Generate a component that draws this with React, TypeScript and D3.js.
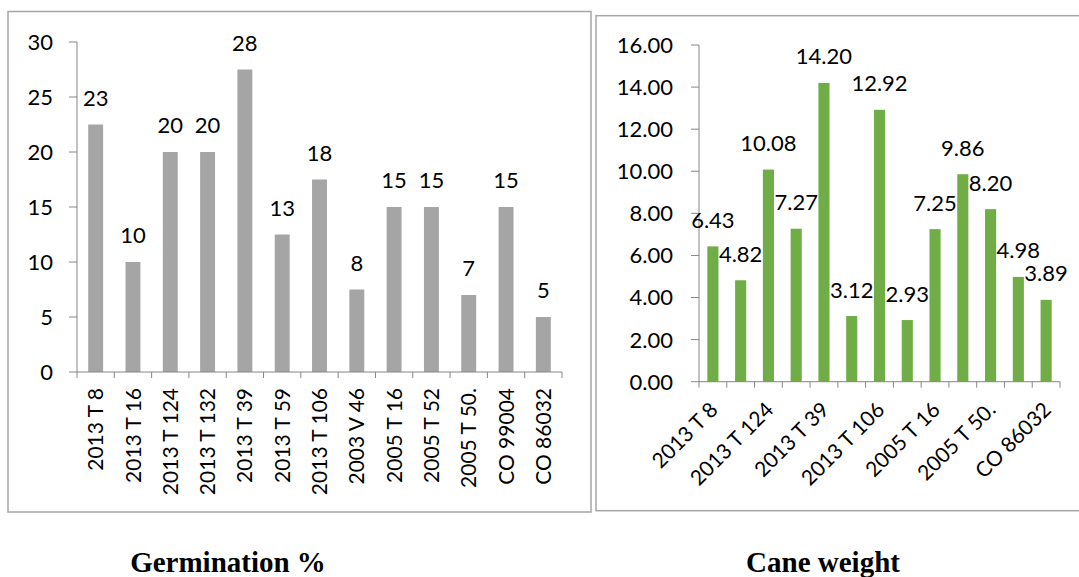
import React from "react";
import * as d3 from "d3";

// Varieties shown on both panels
const varieties = [
  "2013 T 8",
  "2013 T 16",
  "2013 T 124",
  "2013 T 132",
  "2013 T 39",
  "2013 T 59",
  "2013 T 106",
  "2003 V 46",
  "2005 T 16",
  "2005 T 52",
  "2005 T 50.",
  "CO 99004",
  "CO 86032",
];

// Germination percentage per variety
const germination = [22.5, 10, 20, 20, 27.5, 12.5, 17.5, 7.5, 15, 15, 7, 15, 5];

// Cane weight per variety
const caneWeight = [6.43, 4.82, 10.08, 7.27, 14.2, 3.12, 12.92, 2.93, 7.25, 9.86, 8.2, 4.98, 3.89];

const germinationTicks = [0, 5, 10, 15, 20, 25, 30];
const weightTicks = [0, 2, 4, 6, 8, 10, 12, 14, 16];

const FONT = "Lato, 'Open Sans', sans-serif";
const AXIS = "#868686";
const FRAME = "#a6a6a6";

function GerminationChart() {
  const x = d3.scaleBand<string>().domain(varieties).range([77, 562]).paddingInner(0.6).paddingOuter(0.3);
  const y = d3.scaleLinear().domain([0, 30]).range([372, 42]);
  const step = x.step();
  const x0 = x.range()[0];
  const fmt = (v: number) => v.toFixed(0);
  return (
    <g>
      <rect x={8} y={11.5} width={583} height={500.5} fill="#fff" stroke={FRAME} strokeWidth={1.5} />
      {germination.map((v, i) => (
        <rect
          key={varieties[i]}
          x={x(varieties[i])}
          y={y(v)}
          width={x.bandwidth()}
          height={y(0) - y(v)}
          fill="#a5a5a5"
        />
      ))}
      {/* value axis */}
      <line x1={x0} x2={x0} y1={y(30)} y2={y(0)} stroke={AXIS} strokeWidth={1} />
      {germinationTicks.map((t) => (
        <g key={t}>
          <line x1={x0 - 8} x2={x0} y1={y(t)} y2={y(t)} stroke={AXIS} />
          <text x={53} y={y(t)} dy="0.36em" textAnchor="end" fontSize={22} fontFamily={FONT}>
            {t}
          </text>
        </g>
      ))}
      {/* category axis */}
      <line x1={x0} x2={x.range()[1]} y1={y(0)} y2={y(0)} stroke={AXIS} />
      {d3.range(varieties.length + 1).map((k) => (
        <line key={k} x1={x0 + k * step} x2={x0 + k * step} y1={y(0)} y2={y(0) + 6} stroke={AXIS} />
      ))}
      {varieties.map((c) => {
        const cx = (x(c) as number) + x.bandwidth() / 2;
        return (
          <text
            key={c}
            transform={`translate(${cx},388) rotate(-90)`}
            dy="0.36em"
            textAnchor="end"
            fontSize={21}
            fontFamily={FONT}
          >
            {c}
          </text>
        );
      })}
      {germination.map((v, i) => (
        <text
          key={varieties[i]}
          x={(x(varieties[i]) as number) + x.bandwidth() / 2}
          y={y(v) - 19}
          textAnchor="middle"
          fontSize={22}
          fontFamily={FONT}
        >
          {fmt(v)}
        </text>
      ))}
    </g>
  );
}

function CaneWeightChart() {
  const x = d3.scaleBand<string>().domain(varieties).range([699, 1060]).paddingInner(0.6).paddingOuter(0.3);
  const y = d3.scaleLinear().domain([0, 16]).range([381.7, 45]);
  const step = x.step();
  const x0 = x.range()[0];
  const fmt = d3.format(".2f");
  return (
    <g>
      <rect x={596} y={15.7} width={500} height={495} fill="#fff" stroke={FRAME} strokeWidth={1.5} />
      {caneWeight.map((v, i) => (
        <rect
          key={varieties[i]}
          x={x(varieties[i])}
          y={y(v)}
          width={x.bandwidth()}
          height={y(0) - y(v)}
          fill="#70ad47"
        />
      ))}
      <line x1={x0} x2={x0} y1={y(16)} y2={y(0)} stroke={AXIS} />
      {weightTicks.map((t) => (
        <g key={t}>
          <line x1={x0 - 8} x2={x0} y1={y(t)} y2={y(t)} stroke={AXIS} />
          <text x={673} y={y(t)} dy="0.36em" textAnchor="end" fontSize={22} fontFamily={FONT}>
            {fmt(t)}
          </text>
        </g>
      ))}
      <line x1={x0} x2={x.range()[1]} y1={y(0)} y2={y(0)} stroke={AXIS} />
      {d3.range(varieties.length + 1).map((k) => (
        <line key={k} x1={x0 + k * step} x2={x0 + k * step} y1={y(0)} y2={y(0) + 6} stroke={AXIS} />
      ))}
      {varieties
        .filter((_, i) => i % 2 === 0)
        .map((c) => {
          const cx = (x(c) as number) + x.bandwidth() / 2;
          return (
            <text
              key={c}
              transform={`translate(${cx + 1},${y(0) + 24}) rotate(-45)`}
              dy="0.36em"
              textAnchor="end"
              fontSize={21}
              fontFamily={FONT}
            >
              {c}
            </text>
          );
        })}
      {caneWeight.map((v, i) => (
        <text
          key={varieties[i]}
          x={(x(varieties[i]) as number) + x.bandwidth() / 2}
          y={y(v) - 18.5}
          textAnchor="middle"
          fontSize={22}
          fontFamily={FONT}
        >
          {fmt(v)}
        </text>
      ))}
    </g>
  );
}

export default function App() {
  return (
    <svg
      width={1079}
      height={577}
      style={{ position: "absolute", left: 0, top: 0, background: "#fff" }}
    >
      <rect width={1079} height={577} fill="#fff" />
      <GerminationChart />
      <CaneWeightChart />
      <text
        x={228}
        y={572}
        textAnchor="middle"
        fontSize={29}
        fontWeight="bold"
        fontFamily="'Liberation Serif', 'Times New Roman', serif"
      >
        Germination %
      </text>
      <text
        x={823}
        y={572}
        textAnchor="middle"
        fontSize={29}
        fontWeight="bold"
        fontFamily="'Liberation Serif', 'Times New Roman', serif"
      >
        Cane weight
      </text>
    </svg>
  );
}
